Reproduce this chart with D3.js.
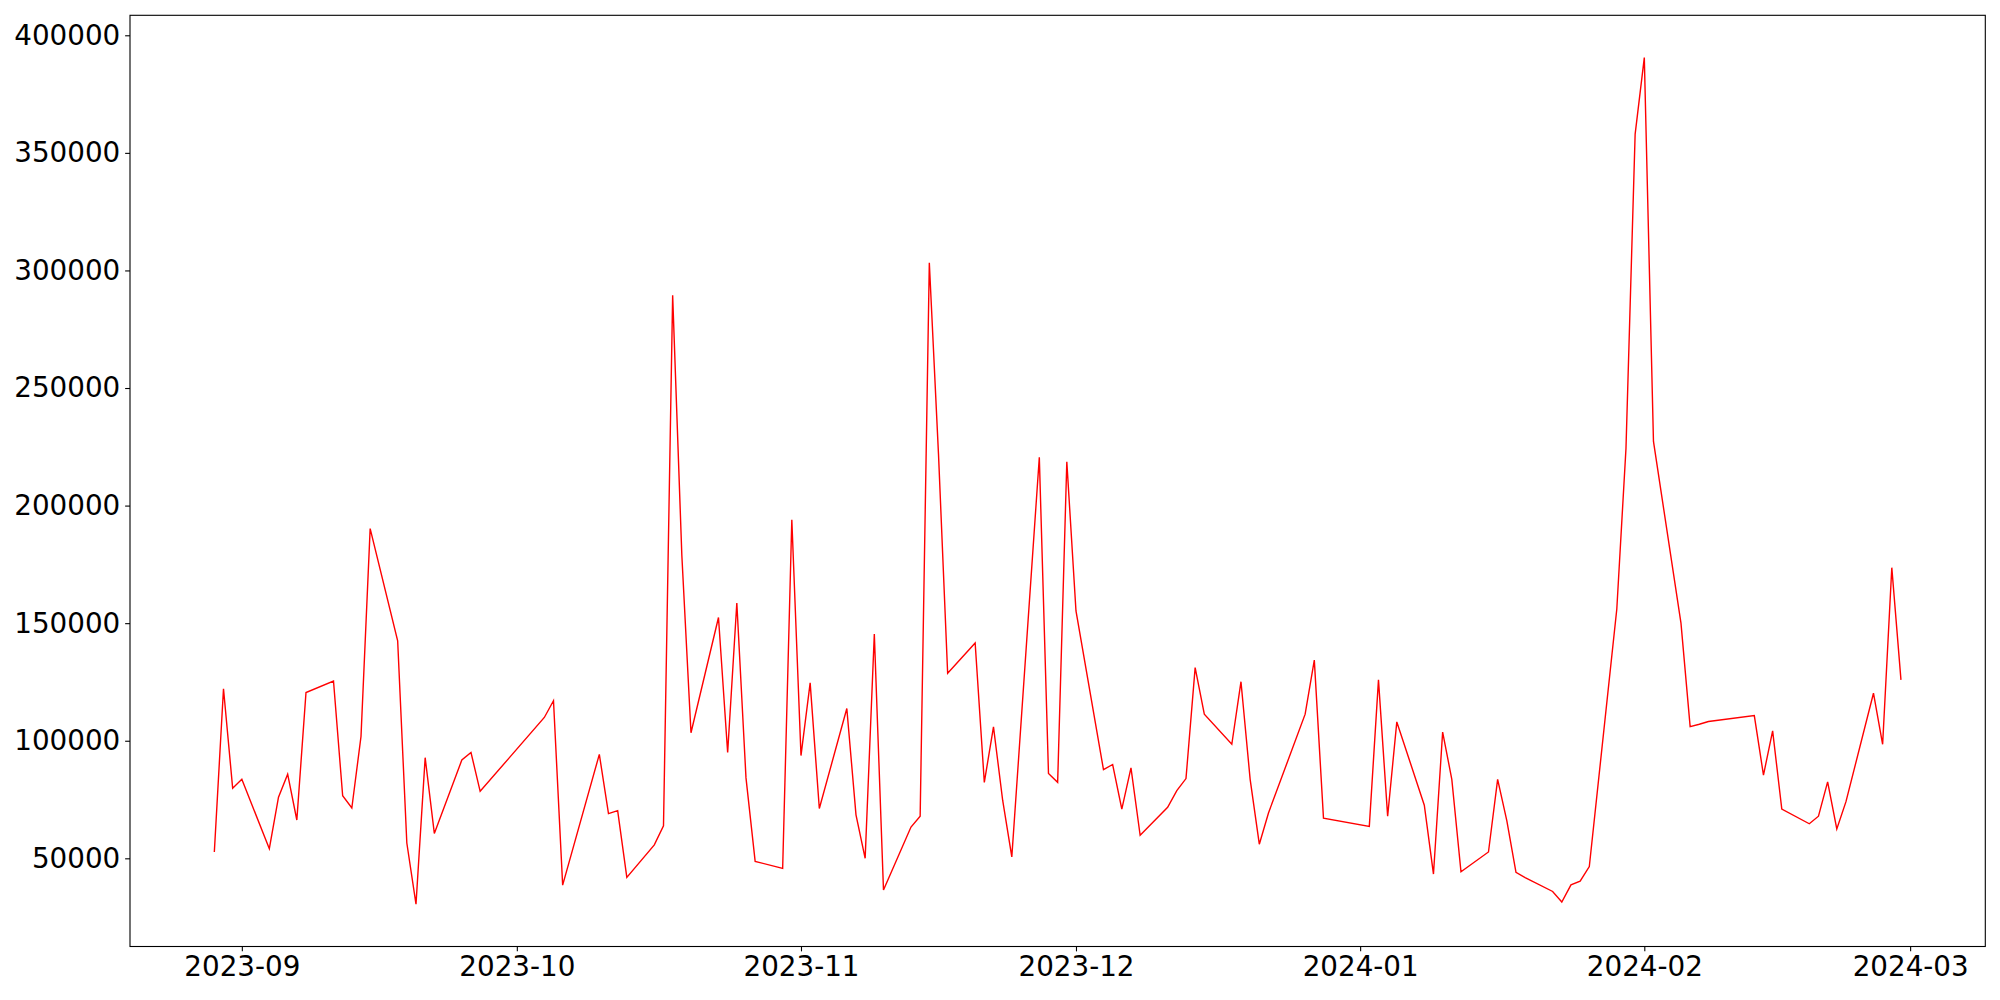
<!DOCTYPE html>
<html lang="en">
<head>
<meta charset="utf-8">
<title>Daily series, 2023-08 to 2024-02</title>
<script src="https://d3js.org/d3.v7.min.js"></script>
<style>
body { margin: 0; background: #fff; }
svg { display: block; }
.line { fill: none; stroke: #ff0000; stroke-width: 1.4px; }
.frame { fill: none; stroke: #000; stroke-width: 1.1px; }
.tick line { stroke: #000; stroke-width: 1.1px; }
.tick text { font-family: "DejaVu Sans", sans-serif; font-size: 27.78px; fill: #000; }
</style>
</head>
<body>
<script>

// trading days
var dates = [
  "2023-08-29","2023-08-30","2023-08-31","2023-09-01",
  "2023-09-04","2023-09-05","2023-09-06","2023-09-07","2023-09-08",
  "2023-09-11","2023-09-12","2023-09-13","2023-09-14","2023-09-15",
  "2023-09-18","2023-09-19","2023-09-20","2023-09-21","2023-09-22",
  "2023-09-25","2023-09-26","2023-09-27",
  "2023-10-04","2023-10-05","2023-10-06",
  "2023-10-10","2023-10-11","2023-10-12","2023-10-13",
  "2023-10-16","2023-10-17","2023-10-18","2023-10-19","2023-10-20",
  "2023-10-23","2023-10-24","2023-10-25","2023-10-26","2023-10-27",
  "2023-10-30","2023-10-31","2023-11-01","2023-11-02","2023-11-03",
  "2023-11-06","2023-11-07","2023-11-08","2023-11-09","2023-11-10",
  "2023-11-13","2023-11-14","2023-11-15","2023-11-16","2023-11-17",
  "2023-11-20","2023-11-21","2023-11-22","2023-11-23","2023-11-24",
  "2023-11-27","2023-11-28","2023-11-29","2023-11-30","2023-12-01",
  "2023-12-04","2023-12-05","2023-12-06","2023-12-07","2023-12-08",
  "2023-12-11","2023-12-12","2023-12-13","2023-12-14","2023-12-15",
  "2023-12-18","2023-12-19","2023-12-20","2023-12-21","2023-12-22",
  "2023-12-26","2023-12-27","2023-12-28",
  "2024-01-02","2024-01-03","2024-01-04","2024-01-05",
  "2024-01-08","2024-01-09","2024-01-10","2024-01-11","2024-01-12",
  "2024-01-15","2024-01-16","2024-01-17","2024-01-18","2024-01-19",
  "2024-01-22","2024-01-23","2024-01-24","2024-01-25","2024-01-26",
  "2024-01-29","2024-01-30","2024-01-31","2024-02-01","2024-02-02",
  "2024-02-05","2024-02-06","2024-02-07","2024-02-08",
  "2024-02-13","2024-02-14","2024-02-15","2024-02-16",
  "2024-02-19","2024-02-20","2024-02-21","2024-02-22","2024-02-23",
  "2024-02-26","2024-02-27","2024-02-28","2024-02-29"
];

var values = [
  52700, 122100, 79800, 83600,
  54100, 76000, 85800, 66300, 120500,
  125400, 76600, 71400, 101800, 190200,
  142500, 56500, 30500, 92800, 60600,
  91800, 95000, 78500,
  109900, 117000, 38600,
  94200, 69000, 70300, 41900,
  55700, 63800, 289400, 179000, 103400,
  152400, 95000, 158600, 84200, 48700,
  45700, 194000, 93700, 124600, 71200,
  113700, 68500, 50000, 145400, 36500,
  63300, 67900, 303300, 222000, 128700,
  141600, 82300, 105900, 74700, 50600,
  220500, 86100, 82300, 218600, 155200,
  87700, 89900, 70900, 88500, 59800,
  71700, 78800, 83900, 131100, 111300,
  98500, 125100, 83600, 56000, 69300,
  111300, 134300, 67100,
  63600, 125900, 67900, 108000,
  72600, 43300, 103700, 83600, 44300,
  52700, 83600, 66000, 44000, 41800,
  35900, 31400, 38700, 40300, 46500,
  156000, 224300, 358000, 390500, 227300,
  150000, 106000, 107000, 108200,
  110700, 85400, 104200, 70900,
  64700, 67900, 82500, 62500, 74100,
  120200, 98500, 173600, 125900
];

var xTicks = ["2023-09-01","2023-10-01","2023-11-01","2023-12-01","2024-01-01","2024-02-01","2024-03-01"];
var yTicks = [50000, 100000, 150000, 200000, 250000, 300000, 350000, 400000];

var margin = {top: 15.3, right: 14.7, bottom: 53.5, left: 130},
    width = 2000 - margin.left - margin.right,
    height = 1000 - margin.top - margin.bottom;

var parseDate = d3.utcParse("%Y-%m-%d");

var data = dates.map(function(d, i) {
  return {date: parseDate(d), value: values[i]};
});

// matplotlib-like 5% padding around the data
var xExt = d3.extent(data, function(d) { return d.date; });
var xPad = (xExt[1] - xExt[0]) * 0.05;
var yExt = d3.extent(data, function(d) { return d.value; });
var yPad = (yExt[1] - yExt[0]) * 0.05;

var x = d3.scaleUtc()
    .domain([new Date(+xExt[0] - xPad), new Date(+xExt[1] + xPad)])
    .range([0, width]);

var y = d3.scaleLinear()
    .domain([yExt[0] - yPad, yExt[1] + yPad])
    .range([height, 0]);

var svg = d3.select("body").append("svg")
    .attr("width", 2000)
    .attr("height", 1000)
  .append("g")
    .attr("transform", "translate(" + margin.left + "," + margin.top + ")");

var valueline = d3.line()
    .x(function(d) { return x(d.date); })
    .y(function(d) { return y(d.value); });

svg.append("path")
    .datum(data)
    .attr("class", "line")
    .attr("d", valueline);

var xAxis = svg.append("g")
    .attr("transform", "translate(0," + height + ")")
    .call(d3.axisBottom(x)
      .tickValues(xTicks.map(parseDate))
      .tickFormat(d3.utcFormat("%Y-%m"))
      .tickSize(4.86)
      .tickPadding(4.86));
xAxis.select(".domain").remove();

var yAxis = svg.append("g")
    .call(d3.axisLeft(y)
      .tickValues(yTicks)
      .tickFormat(d3.format("d"))
      .tickSize(4.86)
      .tickPadding(4.86));
yAxis.select(".domain").remove();

svg.append("rect")
    .attr("class", "frame")
    .attr("width", width)
    .attr("height", height);

</script>
</body>
</html>
